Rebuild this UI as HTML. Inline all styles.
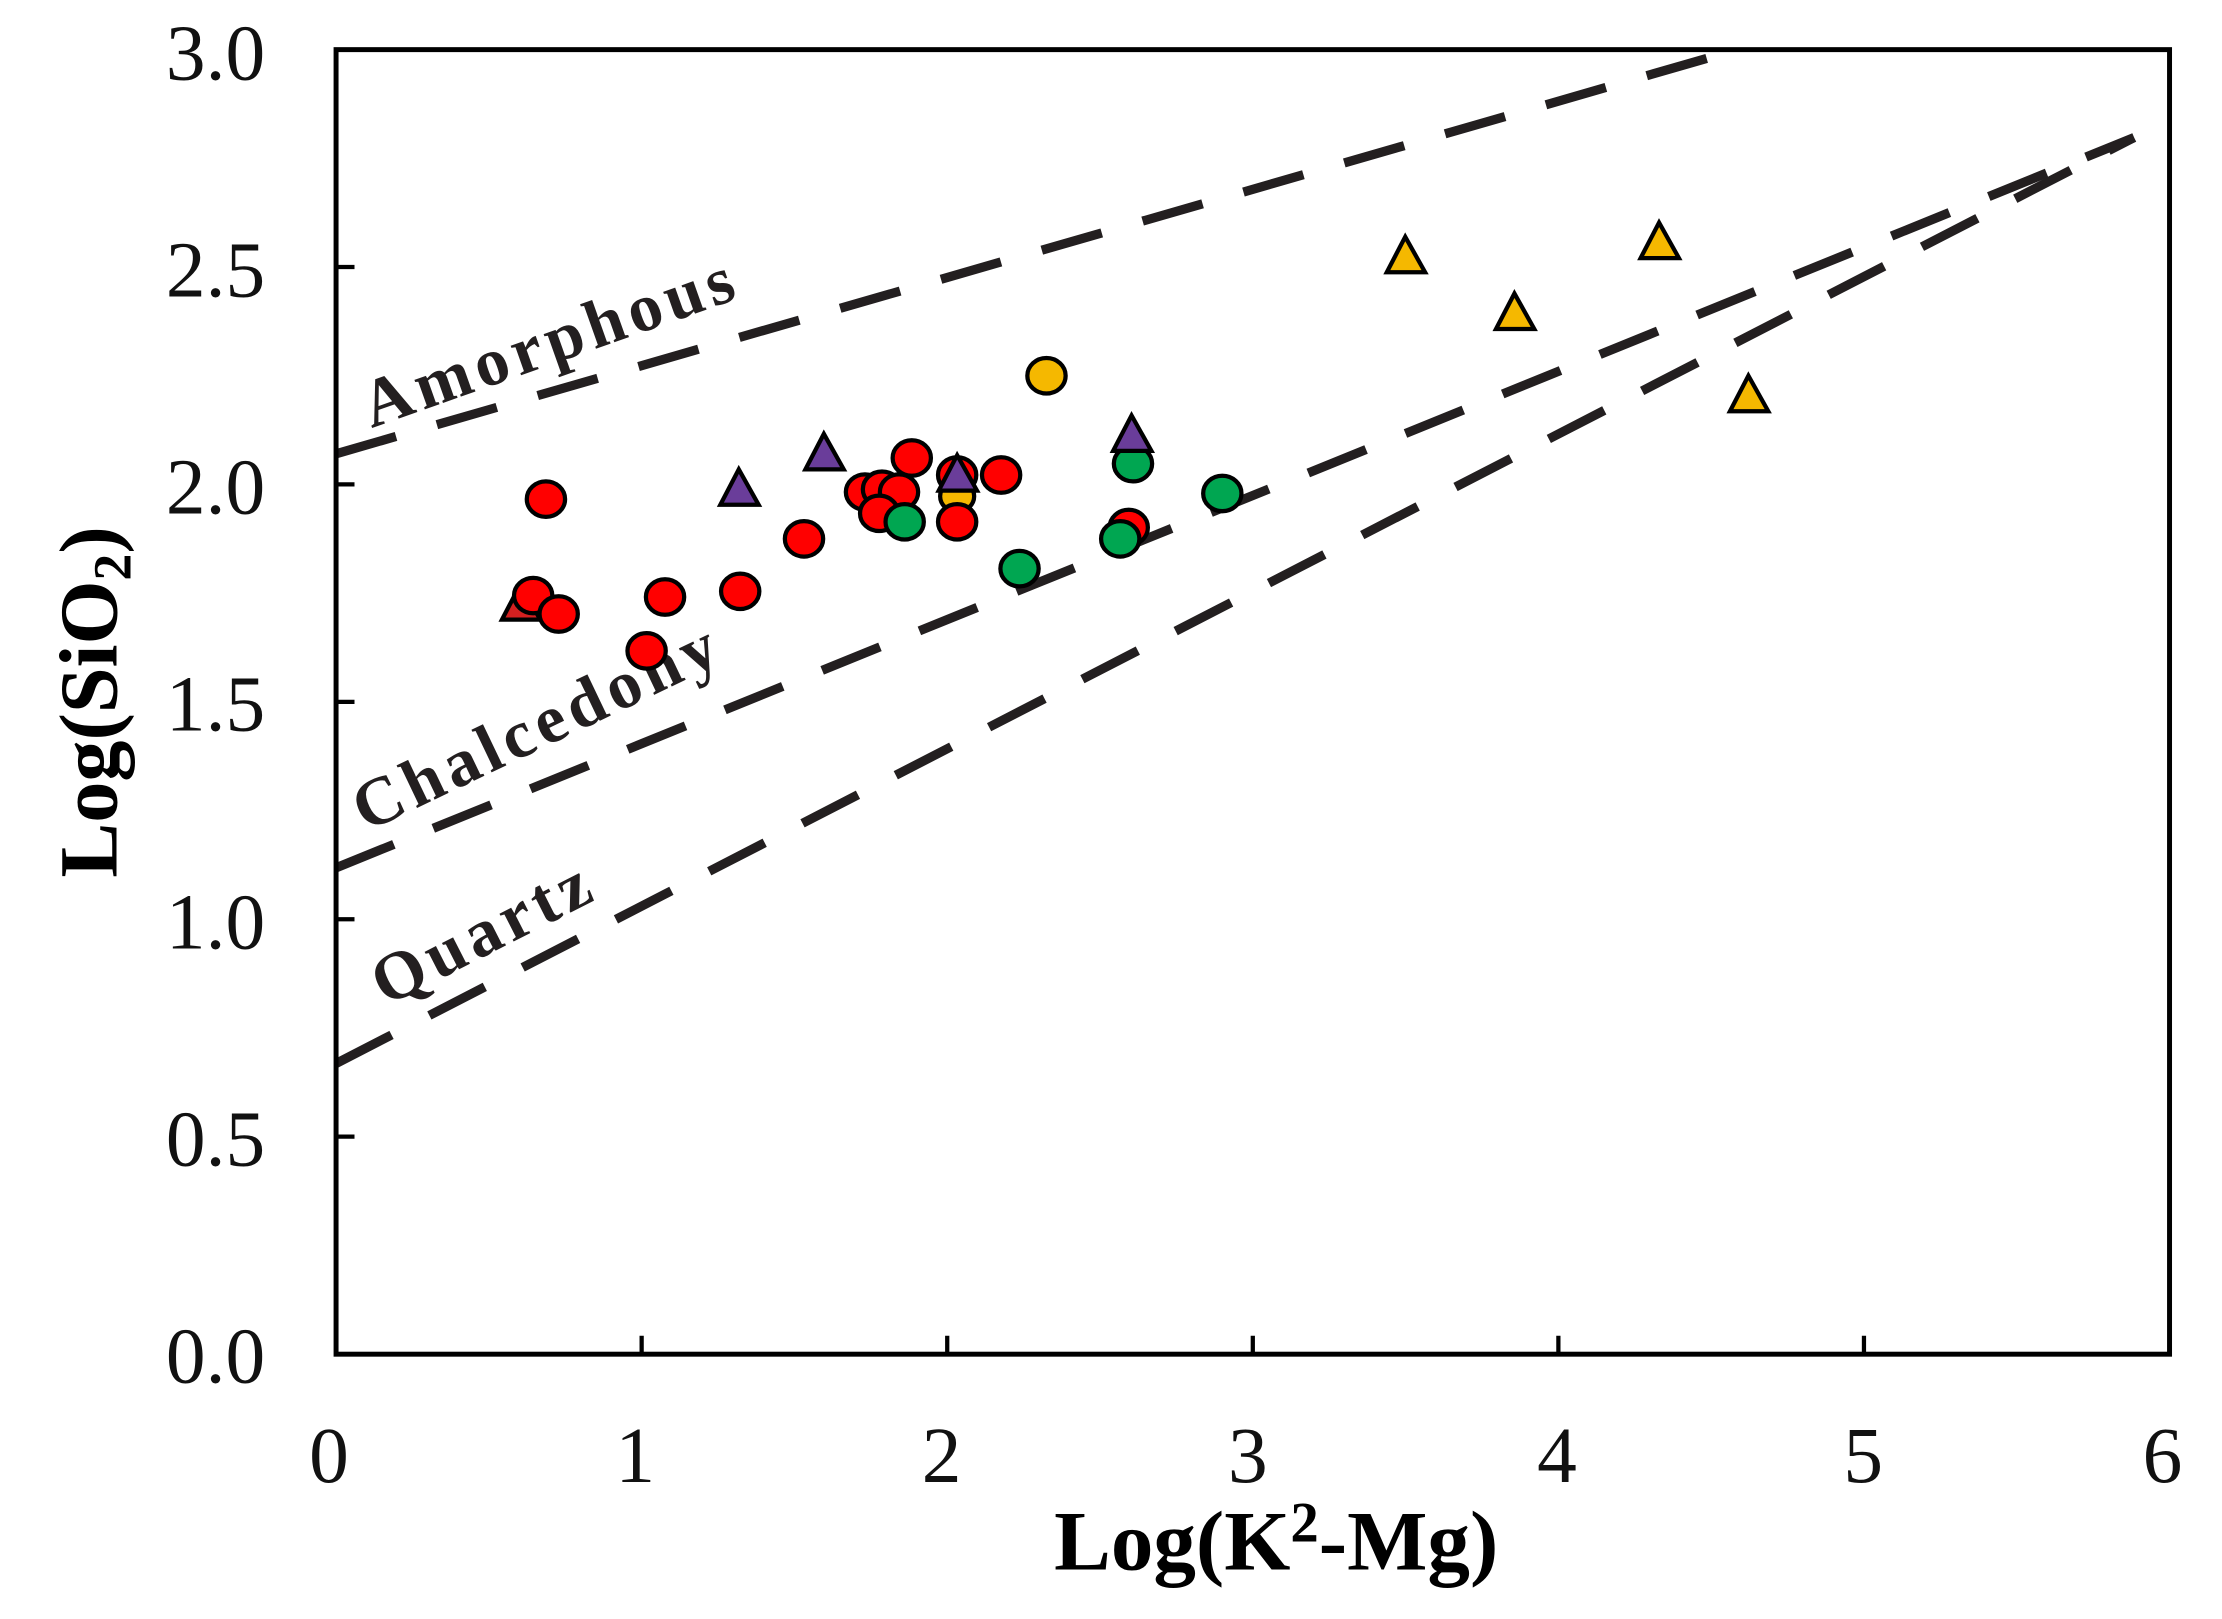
<!DOCTYPE html>
<html><head><meta charset="utf-8"><style>html,body{margin:0;padding:0;background:#fff}svg{display:block}</style></head>
<body>
<svg width="2222" height="1619" viewBox="0 0 2222 1619" xmlns="http://www.w3.org/2000/svg">
<rect width="2222" height="1619" fill="#fff"/>
<g transform="scale(1.418)" font-family="Liberation Serif, serif">
<!-- dashed lines -->
<g stroke="#231f20" stroke-width="6.5" stroke-dasharray="44 30" fill="none">
<line x1="237" y1="320" x2="1225" y2="35"/>
<line x1="237" y1="612" x2="1505" y2="97"/>
<line x1="237" y1="750" x2="1505" y2="97"/>
</g>
<!-- axes box -->
<rect x="237" y="35" width="1293" height="920" fill="none" stroke="#000" stroke-width="3.5"/>
<g stroke="#000" stroke-width="3">
<line x1="237" y1="801.6" x2="250" y2="801.6"/>
<line x1="237" y1="648.3" x2="250" y2="648.3"/>
<line x1="237" y1="495" x2="250" y2="495"/>
<line x1="237" y1="341.6" x2="250" y2="341.6"/>
<line x1="237" y1="188.3" x2="250" y2="188.3"/>
<line x1="452.5" y1="955" x2="452.5" y2="942"/>
<line x1="668" y1="955" x2="668" y2="942"/>
<line x1="883.5" y1="955" x2="883.5" y2="942"/>
<line x1="1099" y1="955" x2="1099" y2="942"/>
<line x1="1314.5" y1="955" x2="1314.5" y2="942"/>
</g>
<!-- tick labels -->
<g font-size="56" fill="#111" text-anchor="end">
<text x="187" y="975">0.0</text>
<text x="187" y="822">0.5</text>
<text x="187" y="669">1.0</text>
<text x="187" y="515">1.5</text>
<text x="187" y="362">2.0</text>
<text x="187" y="209">2.5</text>
<text x="187" y="56">3.0</text>
</g>
<g font-size="56" fill="#111" text-anchor="middle">
<text x="232" y="1045">0</text>
<text x="448" y="1045">1</text>
<text x="664" y="1045">2</text>
<text x="880" y="1045">3</text>
<text x="1098" y="1045">4</text>
<text x="1314" y="1045">5</text>
<text x="1525" y="1045">6</text>
</g>
<text x="900" y="1107" font-size="60" font-weight="bold" text-anchor="middle">Log(K<tspan font-size="40" dy="-20">2</tspan><tspan dy="20">-Mg)</tspan></text>
<text transform="translate(82,495) rotate(-90)" font-size="58" font-weight="bold" text-anchor="middle">Log(SiO<tspan font-size="38" dy="10">2</tspan><tspan dy="-10">)</tspan></text>
<!-- line labels -->
<g font-size="48" font-weight="bold" fill="#231f20" letter-spacing="4">
<text transform="translate(262,302) rotate(-19.5)">Amorphous</text>
<text transform="translate(258,587) rotate(-25.5)">Chalcedony</text>
<text transform="translate(272,710) rotate(-27)">Quartz</text>
</g>
<!-- markers -->
<g stroke="#000" stroke-width="3">
<polygon points="367,412 354,437 381,437" fill="#d42020"/>
<g fill="#ff0000">
<ellipse cx="385" cy="352" rx="13.5" ry="12.5"/>
<ellipse cx="376" cy="420" rx="13.5" ry="12.5"/>
<ellipse cx="394" cy="433" rx="13.5" ry="12.5"/>
<ellipse cx="456" cy="459" rx="13.5" ry="12.5"/>
<ellipse cx="469" cy="421" rx="13.5" ry="12.5"/>
<ellipse cx="522" cy="417" rx="13.5" ry="12.5"/>
<ellipse cx="567" cy="380" rx="13.5" ry="12.5"/>
<ellipse cx="610" cy="347" rx="13.5" ry="12.5"/>
<ellipse cx="622" cy="345" rx="13.5" ry="12.5"/>
<ellipse cx="634" cy="347" rx="13.5" ry="12.5"/>
<ellipse cx="620" cy="362" rx="13.5" ry="12.5"/>
<ellipse cx="643" cy="323" rx="13.5" ry="12.5"/>
<ellipse cx="675" cy="335" rx="13.5" ry="12.5"/>
<ellipse cx="706" cy="335" rx="13.5" ry="12.5"/>
<ellipse cx="796" cy="372" rx="13.5" ry="12.5"/>
</g>
<ellipse cx="675" cy="350" rx="12" ry="11" fill="#f5b800"/>
<ellipse cx="675" cy="368" rx="13.5" ry="12.5" fill="#ff0000"/>
<ellipse cx="738" cy="265" rx="13.5" ry="12.5" fill="#f5b800"/>
<g fill="#00a651">
<ellipse cx="638" cy="368" rx="13.5" ry="12.5"/>
<ellipse cx="719" cy="401" rx="13.5" ry="12.5"/>
<ellipse cx="790" cy="380" rx="13.5" ry="12.5"/>
<ellipse cx="799" cy="327" rx="13.5" ry="12.5"/>
<ellipse cx="862" cy="348" rx="13.5" ry="12.5"/>
</g>
<g fill="#6a3d9a">
<polygon points="521,331 508,356 535,356"/>
<polygon points="581,306 568,331 595,331"/>
<polygon points="675,321 662,346 689,346"/>
<polygon points="798,293 785,318 812,318"/>
</g>
<g fill="#f5b800">
<polygon points="991,167 978,192 1005,192"/>
<polygon points="1068,207 1055,232 1082,232"/>
<polygon points="1170,157 1157,182 1184,182"/>
<polygon points="1233,265 1220,290 1247,290"/>
</g>
</g>
</g>
</svg>
</body></html>
